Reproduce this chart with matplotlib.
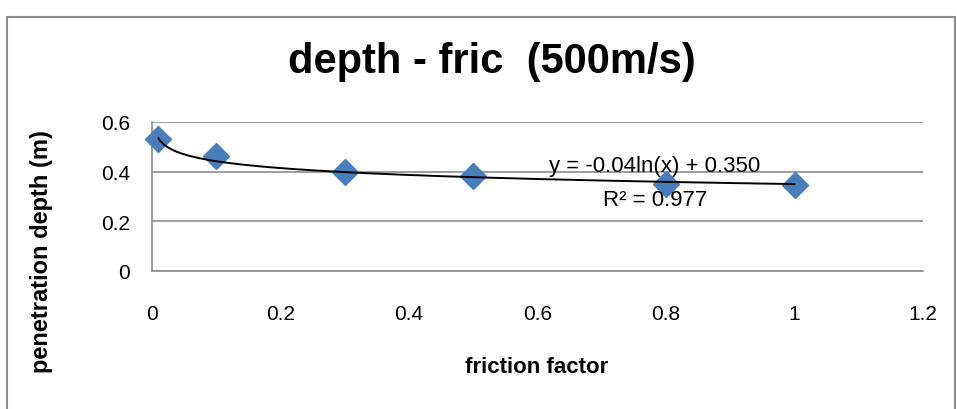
import numpy as np
import matplotlib
matplotlib.use("Agg")
import matplotlib.pyplot as plt
from matplotlib.patches import Rectangle

# friction factor vs penetration depth at 500 m/s
friction = [0.01, 0.1, 0.3, 0.5, 0.8, 1.0]
depth = [0.531, 0.464, 0.400, 0.384, 0.350, 0.346]

# logarithmic trendline y = a*ln(x) + b
trend_a = -0.04
trend_b = 0.350
r_squared = 0.977

x_ticks = [0, 0.2, 0.4, 0.6, 0.8, 1, 1.2]
x_tick_labels = ["0", "0.2", "0.4", "0.6", "0.8", "1", "1.2"]
y_ticks = [0, 0.2, 0.4, 0.6]
y_tick_labels = ["0", "0.2", "0.4", "0.6"]

W, H = 957, 410
fig = plt.figure(figsize=(W / 100, H / 100), dpi=100)
fig.patch.set_facecolor("white")

font = ["Liberation Sans", "DejaVu Sans"]
grey = "#8c8c8c"

# chart frame
fig.patches.append(Rectangle((7 / W, -0.05), (W - 9) / W, (H - 18) / H + 0.05,
                             transform=fig.transFigure, fill=False,
                             edgecolor=grey, linewidth=1.5))

ax = fig.add_axes([152 / W, (H - 272) / H, 771 / W, 149 / H])
ax.set_xlim(0, 1.2)
ax.set_ylim(0, 0.6)

for s in ["top", "right"]:
    ax.spines[s].set_visible(False)
for s in ["left", "bottom"]:
    ax.spines[s].set_color(grey)
    ax.spines[s].set_linewidth(1.2)

ax.set_yticks(y_ticks)
ax.set_yticklabels(y_tick_labels)
ax.set_xticks(x_ticks)
ax.set_xticklabels(x_tick_labels)
ax.tick_params(length=0, labelsize=15)
ax.tick_params(axis="y", pad=16)
ax.tick_params(axis="x", pad=24)
for lbl in ax.get_xticklabels() + ax.get_yticklabels():
    lbl.set_family(font)

ax.grid(axis="y", color=grey, linewidth=1.2)
ax.set_axisbelow(True)

ax.plot(friction, depth, linestyle="none", marker="D", markersize=13,
        color="#4a7ebb", zorder=3, clip_on=False)

xt = np.linspace(min(friction), max(friction), 400)
ax.plot(xt, trend_a * np.log(xt) + trend_b, color="black", linewidth=1.4, zorder=4)

eq_x = (655 - 152) / 771 * 1.2
ax.text(eq_x, 0.425, f"y = {trend_a:.2f}ln(x) + {trend_b:.3f}", ha="center",
        va="center", fontsize=16, family=font, zorder=5)
ax.text(eq_x, 0.286, f"R² = {r_squared:.3f}", ha="center",
        va="center", fontsize=16, family=font, zorder=5)

fig.text(492 / W, 1 - 62 / H, "depth - fric  (500m/s)", ha="center", va="center",
         fontsize=30, fontweight="bold", family=font)
fig.text(537 / W, 1 - 368 / H, "friction factor", ha="center", va="center",
         fontsize=16, fontweight="bold", family=font)
fig.text(42 / W, 1 - 252 / H, "penetration depth (m)", ha="center", va="center",
         rotation=90, fontsize=17, fontweight="bold", family=font)

fig.savefig("out.png", dpi=100)
